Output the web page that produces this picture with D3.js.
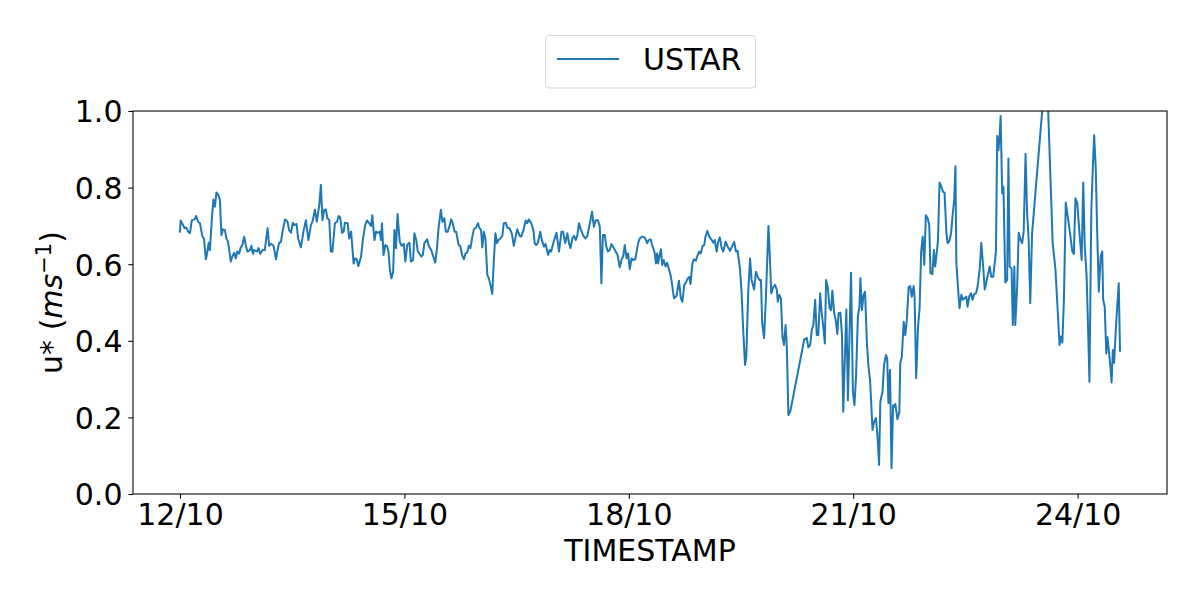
<!DOCTYPE html>
<html>
<head>
<meta charset="utf-8">
<script src="https://cdn.jsdelivr.net/npm/d3@7"></script>
<style>
  html, body { margin: 0; padding: 0; background: #fff; }
  svg { display: block; font-family: "DejaVu Sans", sans-serif; }
</style>
</head>
<body>
<svg id="chart" width="1200" height="600"></svg>
<script>
// ---- data (hours since 12/10 00:00, u* in m/s) ----
const startDate = new Date(2023, 9, 12, 0, 0, 0);
const seriesName = "USTAR";
const hours = [
  0.0,0.2,1.0,1.5,2.0,2.6,3.2,3.8,4.7,5.2,5.8,6.4,7.2,7.7,8.3,8.8,9.2,9.6,10.2,10.7,11.2,11.7,12.3,12.8,13.3,13.8,14.4,14.9,15.4,16.3,16.8,17.4,17.9,18.4,19.0,19.5,20.0,20.6,21.1,21.6,22.5,22.9,23.4,23.8,24.7,25.2,25.7,26.5,27.2,28.1,28.6,29.2,30.0,30.8,31.3,31.8,32.4,32.9,33.7,34.5,35.0,35.6,36.2,
  36.6,37.4,37.9,38.8,39.6,40.4,41.2,42.0,42.5,43.3,43.9,44.7,45.2,45.7,46.3,46.8,47.3,47.9,48.4,48.9,49.7,50.4,50.9,51.4,52.0,52.5,52.9,53.8,54.3,54.9,55.7,56.1,56.7,57.2,58.1,58.6,59.4,60.0,60.7,61.3,61.7,62.4,62.9,63.4,64.1,64.5,64.8,65.3,65.9,66.4,66.9,67.3,67.8,68.4,68.8,69.3,69.8,70.5,71.1,71.8,72.3,72.9,73.6,74.1,74.8,75.2,
  75.8,76.3,76.8,77.4,77.9,78.4,79.3,79.8,80.6,81.1,81.9,82.5,83.0,83.7,84.2,84.8,85.3,85.9,86.5,87.0,87.5,88.1,88.6,89.4,89.9,90.5,91.1,91.6,92.1,92.7,93.2,93.8,94.3,95.0,95.6,96.1,96.6,97.0,97.5,98.0,98.6,99.1,99.6,100.2,100.7,101.2,101.7,102.2,102.8,103.4,103.9,104.5,105.0,105.7,106.5,107.1,107.7,108.2,109.0,109.5,110.2,110.9,111.4,111.9,112.7,113.4,113.8,
  114.3,114.8,115.6,116.1,116.8,117.3,118.1,118.6,119.1,119.9,120.8,121.6,122.4,122.9,123.6,124.3,124.8,125.3,125.9,126.4,127.0,127.5,128.0,128.6,129.3,130.1,130.7,131.5,132.2,132.8,133.4,134.1,134.7,135.2,135.7,136.3,136.8,137.3,137.9,138.4,139.2,139.8,140.4,141.1,141.7,142.2,142.7,143.3,143.8,144.3,144.9,145.4,146.1,147.0,147.5,148.3,149.1,149.9,150.4,151.0,151.5,152.3,
  152.7,153.1,153.4,153.9,154.3,154.7,155.2,155.8,156.3,156.8,157.4,157.9,158.5,159.3,160.1,160.7,161.2,161.8,162.3,162.9,163.4,163.8,164.4,164.9,165.5,166.1,166.6,167.1,167.7,168.2,168.6,169.2,169.8,170.6,171.1,171.6,172.2,172.7,173.2,173.8,174.3,175.1,175.7,176.5,177.2,177.8,178.4,178.9,179.7,180.2,180.7,181.3,181.7,182.3,182.9,183.4,184.2,184.8,185.4,185.9,186.4,186.8,187.4,188.0,188.8,189.3,189.7,190.4,190.9,
  191.5,191.8,192.3,192.8,193.3,193.8,194.3,194.7,195.2,195.8,200.3,201.1,201.6,202.2,202.7,203.2,203.8,204.3,204.8,205.4,205.9,206.4,206.9,207.3,207.9,208.4,208.9,209.3,209.9,210.4,210.9,211.3,211.9,212.4,212.8,213.2,213.8,214.3,214.8,215.3,215.9,216.4,216.9,217.5,218.0,218.3,218.8,219.3,219.8,220.4,220.9,221.4,222.2,222.7,223.3,223.8,224.3,224.7,225.4,225.9,226.5,226.9,227.3,227.8,228.3,228.8,229.2,
  229.5,230.2,230.8,231.1,231.6,232.2,232.7,233.2,233.8,234.3,234.8,235.4,235.7,236.2,236.8,237.3,237.8,238.3,238.8,239.3,239.9,240.4,240.8,241.4,241.9,242.3,242.9,243.2,243.7,244.3,244.8,245.3,245.9,246.3,246.8,247.4,247.9,248.4,248.8,249.1,249.6,250.1,250.7,251.2,251.7,252.3,252.7,253.2,253.8,254.3,254.8,255.4,255.9,256.6,257.1,257.7,258.2,258.7,259.3,259.8,260.3,260.9,261.4,261.8,262.2,262.6,263.0,263.3,263.8,264.2,264.5,264.8,265.4,265.8,266.2,266.8,267.2,267.7,
  268.0,268.6,269.1,269.7,270.2,270.7,271.3,271.8,272.3,272.8,273.4,278.0,280.0,280.9,282.2,282.6,283.1,283.6,284.2,285.0,285.7,286.3,286.8,287.3,287.9,288.6,289.3,289.8,290.3,290.9,291.4,291.8,292.4,292.9,293.3,293.8,294.3,294.8,295.4,295.9,296.2,296.7,297.2,297.6,298.0,298.6,298.9,299.3,299.7,300.2,300.7,301.2,301.6
];
const ustar = [
  0.685,0.714,0.702,0.694,0.696,0.685,0.681,0.715,0.717,0.726,0.711,0.707,0.672,0.667,0.613,0.633,0.656,0.637,0.715,0.769,0.750,0.787,0.781,0.768,0.676,0.691,0.689,0.667,0.659,0.607,0.620,0.630,0.615,0.633,0.628,0.644,0.650,0.672,0.650,0.633,0.637,0.648,0.627,0.637,0.633,0.642,0.627,0.637,0.637,0.694,0.648,0.653,0.648,0.613,0.637,0.655,0.659,0.685,0.717,0.711,0.689,0.682,0.708,
  0.702,0.705,0.667,0.644,0.685,0.715,0.663,0.702,0.711,0.742,0.711,0.755,0.807,0.715,0.742,0.743,0.720,0.715,0.633,0.633,0.707,0.711,0.726,0.722,0.682,0.685,0.708,0.707,0.667,0.685,0.602,0.615,0.613,0.595,0.620,0.659,0.702,0.714,0.707,0.700,0.728,0.663,0.685,0.682,0.685,0.663,0.707,0.624,0.650,0.648,0.633,0.589,0.563,0.580,0.689,0.642,0.731,0.659,0.648,0.653,0.607,0.650,0.656,0.607,0.611,0.681,
  0.663,0.633,0.628,0.620,0.624,0.655,0.665,0.648,0.637,0.624,0.604,0.646,0.698,0.742,0.711,0.720,0.685,0.685,0.700,0.717,0.707,0.685,0.685,0.650,0.648,0.624,0.613,0.628,0.630,0.648,0.642,0.672,0.691,0.696,0.707,0.694,0.689,0.644,0.685,0.667,0.572,0.563,0.546,0.522,0.611,0.681,0.655,0.663,0.667,0.674,0.707,0.708,0.696,0.694,0.679,0.648,0.672,0.691,0.674,0.672,0.689,0.714,0.707,0.717,0.707,0.689,0.655,
  0.650,0.655,0.685,0.663,0.646,0.653,0.624,0.637,0.633,0.659,0.682,0.633,0.685,0.685,0.655,0.681,0.655,0.642,0.667,0.674,0.663,0.676,0.707,0.691,0.676,0.667,0.674,0.707,0.737,0.698,0.715,0.715,0.698,0.550,0.676,0.676,0.646,0.633,0.637,0.653,0.642,0.633,0.624,0.592,0.613,0.620,0.650,0.615,0.628,0.587,0.615,0.611,0.613,0.655,0.667,0.672,0.670,0.655,0.663,0.665,0.650,0.630,
  0.602,0.628,0.602,0.624,0.639,0.598,0.611,0.594,0.604,0.589,0.572,0.546,0.511,0.517,0.557,0.511,0.502,0.546,0.552,0.563,0.567,0.548,0.602,0.613,0.609,0.624,0.633,0.628,0.648,0.650,0.672,0.687,0.672,0.663,0.656,0.663,0.633,0.659,0.670,0.642,0.633,0.659,0.646,0.635,0.648,0.658,0.633,0.635,0.585,0.524,0.428,0.337,0.359,0.524,0.615,0.559,0.534,0.580,0.567,0.559,0.559,0.446,0.407,0.515,0.700,0.611,0.524,0.541,0.546,
  0.533,0.502,0.520,0.511,0.411,0.389,0.441,0.385,0.206,0.215,0.404,0.407,0.383,0.389,0.428,0.441,0.507,0.415,0.415,0.524,0.472,0.437,0.393,0.559,0.537,0.485,0.480,0.531,0.472,0.454,0.418,0.472,0.473,0.415,0.215,0.324,0.482,0.245,0.411,0.578,0.267,0.232,0.306,0.463,0.489,0.563,0.480,0.520,0.528,0.393,0.332,0.298,0.167,0.189,0.198,0.150,0.076,0.241,0.267,0.337,0.363,0.354,0.237,0.324,0.067,0.232,0.228,
  0.235,0.195,0.215,0.341,0.359,0.450,0.415,0.454,0.541,0.543,0.515,0.543,0.515,0.302,0.437,0.485,0.633,0.672,0.598,0.728,0.720,0.702,0.576,0.574,0.637,0.594,0.637,0.663,0.813,0.802,0.789,0.787,0.681,0.655,0.659,0.681,0.728,0.768,0.856,0.602,0.541,0.485,0.520,0.507,0.511,0.515,0.489,0.515,0.524,0.507,0.522,0.524,0.541,0.589,0.656,0.594,0.534,0.552,0.576,0.594,0.567,0.567,0.602,0.633,0.935,0.898,0.937,0.987,0.785,0.802,0.681,0.552,0.559,0.876,0.594,0.589,0.441,0.594,
  0.441,0.541,0.682,0.663,0.655,0.685,0.888,0.733,0.663,0.498,0.681,1.135,0.655,0.585,0.389,0.411,0.395,0.507,0.761,0.715,0.672,0.633,0.627,0.772,0.759,0.681,0.611,0.813,0.646,0.567,0.420,0.293,0.742,0.855,0.937,0.855,0.681,0.528,0.620,0.633,0.507,0.489,0.367,0.409,0.376,0.324,0.291,0.376,0.343,0.420,0.489,0.550,0.374
];
const yTicks = [0.0, 0.2, 0.4, 0.6, 0.8, 1.0];
const xTickDays = [12, 15, 18, 21, 24];   // day of October
const xLabel = "TIMESTAMP";

// ---- build ----
const data = hours.map((h, i) => ({ t: new Date(startDate.getTime() + h * 3600e3), v: ustar[i] }));

const svg = d3.select("#chart");
const m = { left: 133, right: 1167, top: 111, bottom: 494 };
const fs = 30;

const tMin = d3.min(data, d => d.t), tMax = d3.max(data, d => d.t);
const pad = (tMax - tMin) * 0.05;
const x = d3.scaleTime()
  .domain([new Date(tMin.getTime() - pad), new Date(tMax.getTime() + pad)])
  .range([m.left, m.right]);
const y = d3.scaleLinear().domain([0, 1]).range([m.bottom, m.top]);

svg.append("defs").append("clipPath").attr("id", "clip")
  .append("rect").attr("x", m.left).attr("y", m.top)
  .attr("width", m.right - m.left).attr("height", m.bottom - m.top);

svg.append("path")
  .datum(data)
  .attr("clip-path", "url(#clip)")
  .attr("fill", "none")
  .attr("stroke", "#1f77b4")
  .attr("stroke-width", 2)
  .attr("stroke-linejoin", "round")
  .attr("stroke-linecap", "square")
  .attr("d", d3.line().x(d => x(d.t)).y(d => y(d.v)));

// frame
svg.append("rect").attr("x", m.left).attr("y", m.top)
  .attr("width", m.right - m.left).attr("height", m.bottom - m.top)
  .attr("fill", "none").attr("stroke", "#000").attr("stroke-width", 1.07);

// x axis
const xTickVals = xTickDays.map(d => new Date(startDate.getFullYear(), 9, d));
const xAxis = d3.axisBottom(x).tickValues(xTickVals)
  .tickFormat(d3.timeFormat("%d/%m")).tickSize(4.67).tickPadding(4.67);
const gx = svg.append("g").attr("transform", `translate(0,${m.bottom})`).call(xAxis);
gx.select(".domain").remove();
gx.selectAll(".tick line").attr("stroke", "#000").attr("stroke-width", 1.07);
gx.selectAll(".tick text").attr("font-size", fs).attr("fill", "#000")
  .attr("font-family", "DejaVu Sans").attr("dy", "0.71em").attr("y", 9.3);

// y axis
const yAxis = d3.axisLeft(y).tickValues(yTicks).tickFormat(d3.format(".1f"))
  .tickSize(4.67).tickPadding(6);
const gy = svg.append("g").attr("transform", `translate(${m.left},0)`).call(yAxis);
gy.select(".domain").remove();
gy.selectAll(".tick line").attr("stroke", "#000").attr("stroke-width", 1.07);
gy.selectAll(".tick text").attr("font-size", fs).attr("fill", "#000")
  .attr("font-family", "DejaVu Sans").attr("dy", "0.36em").attr("x", -10.5);

// x label
svg.append("text").attr("x", (m.left + m.right) / 2).attr("y", 561)
  .attr("text-anchor", "middle").attr("font-size", fs).attr("fill", "#000")
  .text(xLabel);

// y label
const yl = svg.append("text")
  .attr("transform", `translate(61.5,${(m.top + m.bottom) / 2}) rotate(-90)`)
  .attr("text-anchor", "middle").attr("font-size", fs).attr("fill", "#000");
yl.append("tspan").text("u* (");
yl.append("tspan").attr("font-style", "italic").text("ms");
yl.append("tspan").attr("font-size", fs * 0.7).attr("dy", -11).text("\u22121");
yl.append("tspan").attr("dy", 11).text(")");

// legend
const lg = svg.append("g");
lg.append("rect").attr("x", 545.5).attr("y", 35.5).attr("width", 210).attr("height", 52.5)
  .attr("rx", 4).attr("ry", 4).attr("fill", "#fff").attr("stroke", "#d6d6d6").attr("stroke-width", 1.07);
lg.append("line").attr("x1", 557).attr("x2", 619).attr("y1", 59).attr("y2", 59)
  .attr("stroke", "#1f77b4").attr("stroke-width", 2);
lg.append("text").attr("x", 643).attr("y", 69.5).attr("font-size", fs).attr("fill", "#000")
  .text(seriesName);
</script>
</body>
</html>
